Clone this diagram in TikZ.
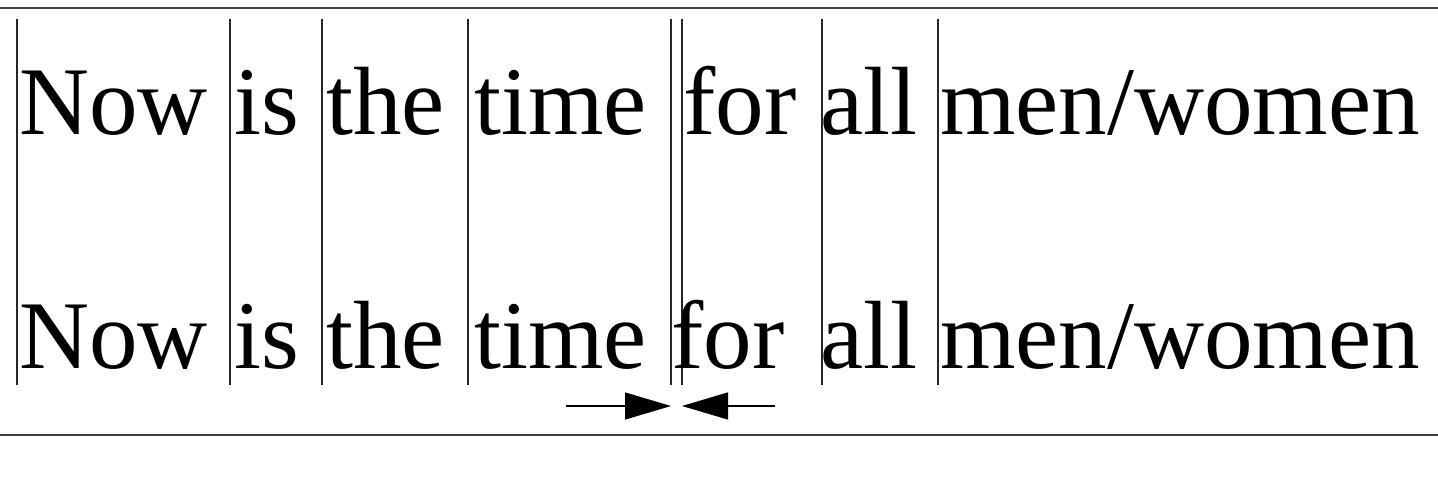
\documentclass[tikz,border=0pt]{standalone}
\usepackage{fontspec}
\setmainfont{Liberation Serif}
\usepackage{tikz}
\usetikzlibrary{arrows.meta}

\tikzset{
  word/.style={anchor=base west, inner sep=0pt, font=\fontsize{97}{110}\selectfont},
  marker/.style={line width=1.3pt, black!85},
  rule/.style={line width=1.8pt, black!75},
  kern/.style={line width=1.2pt, -{Triangle[length=46pt,width=27pt]}}
}

\begin{document}
\begin{tikzpicture}[x=1pt, y=-1pt]
			\useasboundingbox (0,0) rectangle (1438,484);
			
			\draw[rule] (0,8) -- (1438,8);
			\draw[rule] (0,435) -- (1438,435);
			
			% word boundaries
			\foreach \xx in {17, 230, 322, 468, 671, 682, 938}
				\draw[marker] (\xx,19) -- (\xx,385);
			\draw[marker, line width=1.8pt] (822,19) -- (822,385);
			
			% first line
			\node (tNow) [word] at (19,135){Now};
			\node (tis) [word] at (234,135){is};
			\node (tthe) [word] at (326,135){the};
			\node (ttime) [word] at (474,135){time};
			\node (tfor) [word] at (683,135){for};
			\node (tall) [word] at (820,135){all};
			\node (tmen) [word] at (940,135){men/women};
			
			% second line, kerned
			\node (bNow) [word] at (19,368){Now};
			\node (bis) [word] at (234,368){is};
			\node (bthe) [word] at (326,368){the};
			\node (btime) [word] at (474,368){time};
			\node (bfor) [word] at (671,368){for};
			\node (ball) [word] at (820,368){all};
			\node (bmen) [word] at (940,368){men/women};
			
			\coordinate (ka) at (566,406);
			\coordinate (kb) at (671,406);
			\coordinate (kc) at (682,406);
			\coordinate (kd) at (775,406);
			\draw[kern] (ka) -- (kb);
			\draw[kern] (kd) -- (kc);
			
\end{tikzpicture}
\end{document}
